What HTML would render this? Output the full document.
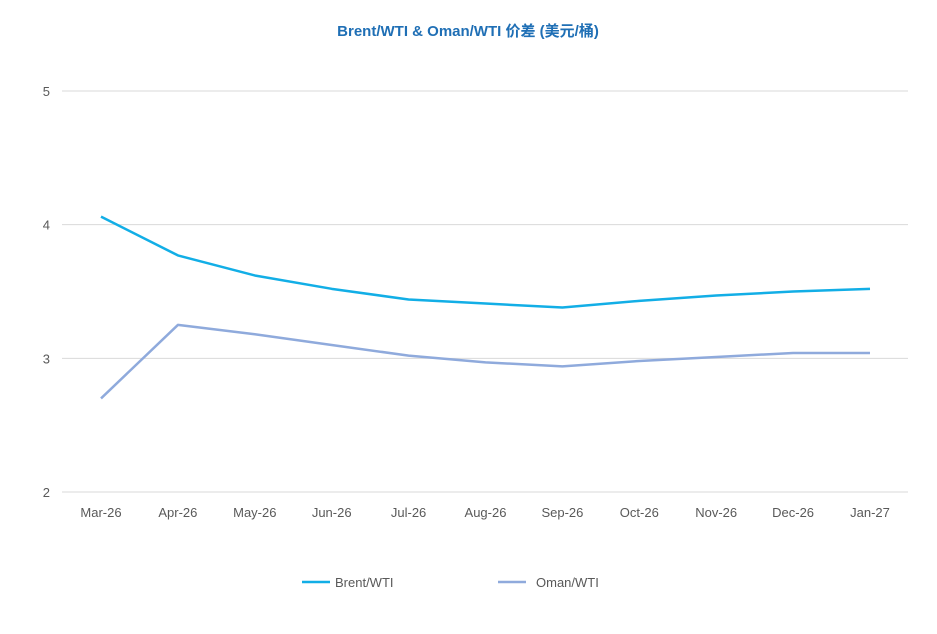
<!DOCTYPE html>
<html><head><meta charset="utf-8"><style>
body{margin:0;background:#fff;}
svg{display:block;font-family:"Liberation Sans","Noto Sans CJK SC",sans-serif;}
</style></head><body>
<svg id="chart" width="937" height="634">
<text x="468" y="36" text-anchor="middle" font-size="15" font-weight="bold" fill="#1f6fb5">Brent/WTI &amp; Oman/WTI 价差 (美元/桶)</text>
<g id="grid"></g><g id="lines"></g>
<g>
<line x1="302" y1="582" x2="330" y2="582" stroke="#12aee6" stroke-width="2.5"/>
<text x="335" y="587" font-size="13" fill="#595959">Brent/WTI</text>
<line x1="498" y1="582" x2="526" y2="582" stroke="#8faadc" stroke-width="2.5"/>
<text x="536" y="587" font-size="13" fill="#595959">Oman/WTI</text>
</g>
</svg>
<script>
const categories=["Mar-26","Apr-26","May-26","Jun-26","Jul-26","Aug-26","Sep-26","Oct-26","Nov-26","Dec-26","Jan-27"];
const brentValues=[4.06,3.77,3.62,3.52,3.44,3.41,3.38,3.43,3.47,3.50,3.52];
const omanValues=[2.70,3.25,3.18,3.10,3.02,2.97,2.94,2.98,3.01,3.04,3.04];
const yTicks=[2,3,4,5];
const NS="http://www.w3.org/2000/svg";
const x=i=>101+i*(870-101)/(categories.length-1);
const y=v=>492-(v-2)*(492-91)/3;
const grid=document.getElementById('grid'),lines=document.getElementById('lines');
function mk(t,a,p){const e=document.createElementNS(NS,t);for(const k in a)e.setAttribute(k,a[k]);p.appendChild(e);return e;}
yTicks.forEach(v=>{
 const l=mk('line',{x1:62,x2:908,y1:y(v),y2:y(v),stroke:'#d9d9d9','stroke-width':1},grid);
 
 
 const t=mk('text',{x:50,y:y(v)+5,'text-anchor':'end','font-size':13,fill:'#595959'},grid);
 t.textContent=v;
 
 
});
categories.forEach((c,i)=>{
 const t=mk('text',{x:x(i),y:517,'text-anchor':'middle','font-size':13,fill:'#595959'},grid);
 t.textContent=c;
 
 
});
[[brentValues,'#12aee6','brent-wti-line'],[omanValues,'#8faadc','oman-wti-line']].forEach(([vals,col,name])=>{
 const p=mk('polyline',{points:vals.map((v,i)=>x(i)+','+y(v)).join(' '),fill:'none',stroke:col,'stroke-width':2.5,'stroke-linejoin':'round'},lines);
 
 
});
</script>
</body></html>
